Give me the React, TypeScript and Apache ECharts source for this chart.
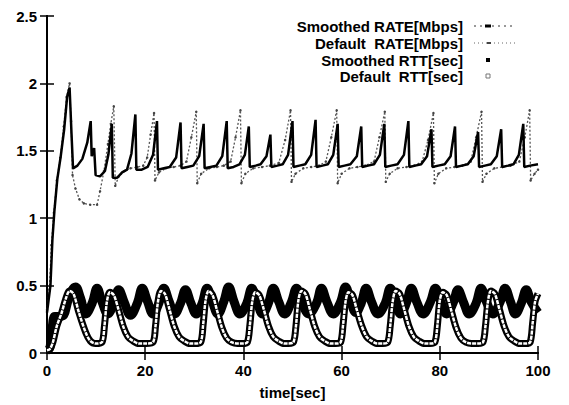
import React, { useEffect, useRef } from "react";
import * as echarts from "echarts";

// ---- data (time [sec], value) ----
const legendLabels = [
  "Smoothed RATE[Mbps]",
  "Default  RATE[Mbps]",
  "Smoothed RTT[sec]",
  "Default  RTT[sec]",
];

const smoothedRate: [number, number][] = [
  [0,0.3],[0.7,0.5],[1.1,0.84],[1.5,1.05],[2.1,1.29],[2.8,1.46],[3.5,1.66],[4.1,1.9],[4.6,1.97],[5.0,1.62],[5.3,1.37],
  [6.2,1.39],[7.2,1.44],[8.2,1.56],[8.9,1.72],[9.1,1.46],[9.6,1.52],[9.9,1.32],[10.8,1.31],[11.8,1.35],[12.5,1.47],[13.2,1.7],
  [13.4,1.3],[14.3,1.3],[15.3,1.34],[16.3,1.36],[17.2,1.48],[18.0,1.77],[18.2,1.36],[19.3,1.36],[20.5,1.38],[21.6,1.47],[22.4,1.72],
  [22.6,1.36],[23.8,1.37],[25.0,1.38],[26.3,1.45],[27.2,1.71],[27.4,1.37],[28.6,1.38],[29.8,1.39],[31.0,1.46],[31.9,1.7],
  [32.1,1.37],[33.3,1.38],[34.5,1.39],[35.7,1.46],[36.6,1.72],[36.8,1.37],[38.0,1.38],[39.2,1.4],[40.3,1.47],[41.1,1.68],
  [41.3,1.38],[42.5,1.39],[43.5,1.4],[44.7,1.46],[45.5,1.62],[45.7,1.38],[46.9,1.39],[48.0,1.4],[49.1,1.47],[50.0,1.72],
  [50.2,1.38],[51.4,1.39],[52.6,1.4],[53.8,1.47],[54.7,1.73],[54.9,1.38],[56.1,1.39],[57.2,1.4],[58.3,1.47],[59.2,1.7],
  [59.4,1.38],[60.6,1.39],[61.8,1.4],[63.1,1.46],[64.0,1.68],[64.2,1.38],[65.4,1.39],[66.6,1.4],[67.8,1.47],[68.7,1.7],
  [68.9,1.38],[70.1,1.39],[71.4,1.4],[72.7,1.47],[73.6,1.72],[73.8,1.38],[75.0,1.39],[76.2,1.4],[77.4,1.46],[78.3,1.66],
  [78.5,1.38],[79.7,1.39],[81.0,1.4],[82.2,1.46],[83.1,1.68],[83.3,1.38],[84.5,1.39],[85.7,1.4],[86.9,1.46],[87.8,1.64],
  [88.0,1.38],[89.2,1.39],[90.4,1.4],[91.6,1.46],[92.5,1.66],[92.7,1.38],[93.9,1.39],[95.0,1.4],[96.1,1.47],[97.0,1.7],
  [97.2,1.38],[98.4,1.39],[100,1.4],
];

const defaultRate: [number, number][] = [
  [0,0.32],[0.5,0.47],[0.9,0.8],[1.4,1.04],[2.0,1.28],[2.7,1.45],[3.4,1.68],[4.0,1.9],[4.6,2.0],[4.9,1.72],[5.2,1.32],
  [5.8,1.22],[6.6,1.14],[7.5,1.11],[8.8,1.1],[10.2,1.1],[10.8,1.2],[11.6,1.35],[12.4,1.55],[13.0,1.7],[13.6,1.83],
  [13.9,1.24],[14.6,1.31],[15.8,1.35],[17.0,1.37],[18.4,1.38],[19.6,1.39],[20.4,1.45],[21.1,1.62],[21.8,1.78],
  [22.0,1.28],[22.8,1.34],[24.2,1.37],[25.8,1.38],[27.2,1.39],[28.4,1.42],[29.4,1.6],[30.4,1.79],
  [30.6,1.26],[31.4,1.33],[33.0,1.37],[34.6,1.38],[36.0,1.39],[37.4,1.42],[38.4,1.6],[39.4,1.8],
  [39.6,1.26],[40.4,1.33],[42.0,1.37],[43.8,1.38],[45.4,1.39],[47.2,1.41],[48.5,1.58],[49.6,1.8],
  [49.8,1.27],[50.6,1.33],[52.2,1.37],[53.8,1.38],[55.4,1.39],[56.8,1.42],[57.9,1.6],[59.0,1.8],
  [59.2,1.26],[60.0,1.33],[61.6,1.37],[63.2,1.38],[64.8,1.39],[66.6,1.42],[67.7,1.6],[68.8,1.79],
  [69.0,1.27],[69.8,1.33],[71.4,1.37],[73.2,1.38],[74.8,1.39],[76.4,1.42],[77.6,1.58],[78.7,1.78],
  [78.9,1.26],[79.7,1.33],[81.3,1.37],[83.0,1.38],[84.6,1.39],[86.3,1.42],[87.4,1.6],[88.5,1.79],
  [88.7,1.27],[89.5,1.33],[91.1,1.37],[92.8,1.38],[94.4,1.39],[96.2,1.42],[97.3,1.6],[98.3,1.8],
  [98.5,1.28],[99.3,1.33],[100,1.36],
];

const smoothedRtt: [number, number][] = [
  [0,0.02],[0.6,0.04],[1.1,0.2],[1.6,0.27],[2.5,0.27],[3.4,0.28],[4.2,0.38],[5.0,0.46],[5.8,0.49],[6.8,0.41],[7.9,0.29],
  [9.2,0.37],[10.2,0.48],[11.2,0.38],[12.4,0.29],
  [13.6,0.37],[14.6,0.47],[15.7,0.38],[17.0,0.28],
  [18.4,0.37],[19.4,0.48],[20.5,0.38],[21.6,0.29],
  [22.8,0.37],[23.8,0.48],[24.9,0.38],[26.0,0.29],
  [27.2,0.37],[28.2,0.47],[29.3,0.37],[30.4,0.29],
  [31.6,0.37],[32.6,0.48],[33.7,0.38],[34.8,0.29],
  [36.0,0.38],[37.0,0.49],[38.1,0.38],[39.3,0.29],
  [40.7,0.37],[41.7,0.48],[42.8,0.38],[43.9,0.29],
  [45.1,0.37],[46.1,0.48],[47.2,0.38],[48.4,0.29],
  [49.8,0.38],[50.8,0.48],[51.9,0.38],[53.3,0.29],
  [54.9,0.37],[55.9,0.48],[57.0,0.38],[58.3,0.29],
  [59.8,0.38],[60.8,0.49],[61.8,0.39],[62.9,0.3],
  [64.0,0.37],[65.0,0.48],[66.1,0.38],[67.4,0.29],
  [68.9,0.37],[69.9,0.48],[71.0,0.38],[72.0,0.29],
  [73.2,0.37],[74.2,0.48],[75.3,0.38],[76.6,0.29],
  [78.1,0.38],[79.1,0.48],[80.2,0.38],[81.4,0.29],
  [82.7,0.37],[83.7,0.47],[84.8,0.38],[86.0,0.29],
  [87.4,0.37],[88.4,0.48],[89.5,0.38],[90.8,0.29],
  [92.3,0.38],[93.3,0.48],[94.4,0.38],[95.4,0.29],
  [96.6,0.37],[97.6,0.47],[98.6,0.38],[100,0.3],
];

const defaultRtt: [number, number][] = [
  [0,0.02],[0.6,0.03],[1.2,0.08],[2.0,0.2],[3.0,0.3],[3.8,0.4],[4.6,0.46],[5.4,0.44],[6.5,0.3],[7.9,0.15],[8.8,0.09],[9.9,0.07],
  [11.2,0.08],[11.7,0.2],[12.2,0.38],[12.8,0.45],[13.6,0.43],[14.5,0.33],[15.5,0.2],[16.5,0.12],[17.5,0.09],[18.7,0.07],[20.2,0.07],
  [21.6,0.08],[22.1,0.2],[22.6,0.38],[23.2,0.46],[24.0,0.44],[24.9,0.33],[25.9,0.2],[26.9,0.12],[27.9,0.09],[29.1,0.07],[30.1,0.07],
  [31.3,0.08],[31.8,0.21],[32.3,0.39],[32.9,0.46],[33.7,0.43],[34.6,0.32],[35.6,0.19],[36.6,0.11],[37.6,0.08],[38.8,0.07],[39.7,0.07],
  [40.8,0.08],[41.3,0.2],[41.8,0.38],[42.4,0.45],[43.2,0.43],[44.1,0.33],[45.1,0.2],[46.1,0.12],[47.1,0.09],[48.3,0.07],[49.2,0.07],
  [50.2,0.08],[50.7,0.2],[51.2,0.39],[51.8,0.46],[52.6,0.44],[53.5,0.33],[54.5,0.2],[55.5,0.12],[56.5,0.09],[57.7,0.07],[58.8,0.07],
  [59.8,0.08],[60.3,0.21],[60.8,0.38],[61.4,0.45],[62.2,0.43],[63.1,0.32],[64.1,0.2],[65.1,0.12],[66.1,0.09],[67.3,0.07],[68.4,0.07],
  [69.4,0.08],[69.9,0.2],[70.4,0.38],[71.0,0.46],[71.8,0.44],[72.7,0.33],[73.7,0.2],[74.7,0.12],[75.7,0.09],[76.9,0.07],[78.0,0.07],
  [79.0,0.08],[79.5,0.2],[80.0,0.39],[80.6,0.45],[81.4,0.43],[82.3,0.32],[83.3,0.19],[84.3,0.11],[85.3,0.08],[86.5,0.07],[87.8,0.07],
  [88.8,0.08],[89.3,0.2],[89.8,0.38],[90.4,0.46],[91.2,0.44],[92.1,0.33],[93.1,0.2],[94.1,0.12],[95.1,0.09],[96.3,0.07],[97.4,0.07],
  [98.4,0.08],[98.9,0.22],[99.4,0.38],[100,0.44],
];

const FONT = "Liberation Sans";

export default function App() {
  const ref = useRef<HTMLDivElement>(null);

  useEffect(() => {
    if (!ref.current) return;
    const chart = echarts.init(ref.current, undefined, { renderer: "svg" });

    const axisCommon = {
      type: "value" as const,
      axisLine: { show: true, lineStyle: { color: "#000", width: 2 } },
      axisTick: { show: true, inside: true, length: 7, lineStyle: { color: "#000", width: 1.5 } },
      splitLine: { show: false },
    };
    const labelStyle = {
      color: "#000",
      fontSize: 15,
      fontWeight: "bold" as const,
      fontFamily: FONT,
    };

    const legendY = [26, 43, 60, 76];
    const textX = 463;

    const graphic: any[] = legendLabels.map((t, i) => ({
      type: "text",
      x: textX,
      y: legendY[i],
      z: 100,
      style: {
        text: t,
        textAlign: "right",
        textVerticalAlign: "middle",
        fontSize: 15,
        fontWeight: "bold",
        fontFamily: FONT,
        fill: "#000",
      },
    }));
    graphic.push(
      { type: "line", z: 100, shape: { x1: 474, y1: legendY[0], x2: 512, y2: legendY[0] }, style: { stroke: "#333", lineWidth: 1, lineDash: [2, 4] } },
      { type: "rect", z: 100, shape: { x: 485, y: legendY[0] - 1.5, width: 6, height: 3 }, style: { fill: "#000" } },
      { type: "line", z: 100, shape: { x1: 474, y1: legendY[1], x2: 515, y2: legendY[1] }, style: { stroke: "#666", lineWidth: 1, lineDash: [1, 3] } },
      { type: "rect", z: 100, shape: { x: 487, y: legendY[1] - 1, width: 4, height: 2 }, style: { fill: "#444" } },
      { type: "rect", z: 100, shape: { x: 486, y: legendY[2] - 2, width: 4, height: 4 }, style: { fill: "#000" } },
      { type: "rect", z: 100, shape: { x: 486, y: legendY[3] - 2, width: 4, height: 4 }, style: { fill: "#fff", stroke: "#777", lineWidth: 1 } }
    );

    chart.setOption({
      animation: false,
      backgroundColor: "#fff",
      textStyle: { fontFamily: FONT },
      grid: { left: 47, right: 31, top: 16, bottom: 51, containLabel: false },
      xAxis: [
        {
          ...axisCommon,
          position: "bottom",
          min: 0,
          max: 100,
          interval: 20,
          axisLabel: { ...labelStyle, margin: 10 },
          name: "time[sec]",
          nameLocation: "middle",
          nameGap: 32,
          nameTextStyle: { ...labelStyle },
        },
        {
          ...axisCommon,
          position: "top",
          min: 0,
          max: 100,
          interval: 20,
          axisLabel: { show: false },
        },
      ],
      yAxis: [
        {
          ...axisCommon,
          position: "left",
          min: 0,
          max: 2.5,
          interval: 0.5,
          axisLabel: { ...labelStyle, margin: 10 },
        },
        {
          ...axisCommon,
          position: "right",
          min: 0,
          max: 2.5,
          interval: 0.5,
          axisLabel: { show: false },
        },
      ],
      graphic,
      series: [
        {
          name: legendLabels[1],
          type: "line",
          data: defaultRate,
          showSymbol: true,
          symbol: "circle",
          symbolSize: 2.5,
          itemStyle: { color: "#444" },
          lineStyle: { color: "#555", width: 1.3, type: [2, 2] },
          z: 2,
        },
        {
          name: legendLabels[0],
          type: "line",
          data: smoothedRate,
          showSymbol: false,
          lineStyle: { color: "#000", width: 2.5 },
          z: 3,
        },
        {
          name: legendLabels[2],
          type: "line",
          data: smoothedRtt,
          smooth: 0.4,
          showSymbol: false,
          lineStyle: { color: "#000", width: 9 },
          z: 4,
        },
        {
          name: legendLabels[3],
          type: "line",
          data: defaultRtt,
          smooth: 0.3,
          showSymbol: false,
          lineStyle: { color: "#000", width: 7 },
          z: 5,
        },
        {
          name: legendLabels[3] + " inner",
          type: "line",
          data: defaultRtt,
          smooth: 0.3,
          showSymbol: false,
          lineStyle: { color: "#fff", width: 2.5, type: [4, 1] },
          z: 6,
        },
      ],
    });

    return () => chart.dispose();
  }, []);

  return (
    <div
      ref={ref}
      style={{ position: "absolute", left: 0, top: 0, width: 569, height: 405, background: "#fff" }}
    />
  );
}
